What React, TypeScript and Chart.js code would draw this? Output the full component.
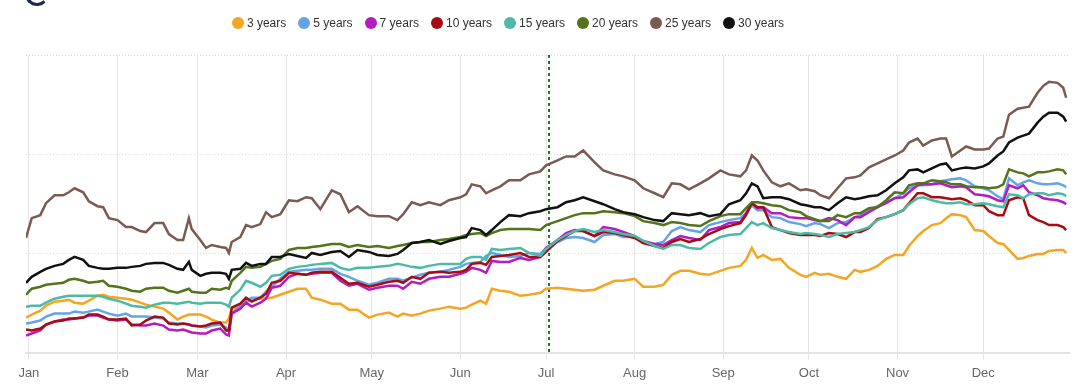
import { useEffect, useRef } from "react";
import { Chart, registerables } from "chart.js";

Chart.register(...registerables);

// Day of year (0 = 1 Jan) for each observation
const days = [
  -1, 1, 4, 6, 9, 12, 14, 16, 19, 21,
  24, 26, 28, 31, 34, 36, 39, 41, 44, 47,
  49, 52, 54, 56, 57, 60, 62, 64, 67, 69,
  70, 71, 74, 76, 78, 81, 83, 85, 88, 91,
  94, 97, 99, 102, 106, 109, 112, 115, 119, 122,
  126, 129, 131, 134, 137, 140, 144, 147, 151, 153,
  155, 158, 160, 162, 165, 168, 172, 175, 179, 181,
  185, 188, 191, 194, 198, 201, 205, 208, 212, 215,
  219, 222, 225, 228, 231, 235, 238, 242, 245, 249,
  251, 253, 255, 257, 260, 263, 266, 270, 272, 275,
  277, 280, 283, 286, 289, 291, 294, 297, 300, 303,
  306, 308, 311, 313, 316, 319, 321, 323, 326, 328,
  331, 334, 336, 339, 341, 343, 346, 348, 350, 353,
  355, 357, 360, 362, 363,
];

const monthStarts = [0, 31, 59, 90, 120, 151, 181, 212, 243, 273, 304, 334];
const monthLabels = ["Jan", "Feb", "Mar", "Apr", "May", "Jun", "Jul", "Aug", "Sep", "Oct", "Nov", "Dec"];
const plotLineDay = 182;

const seriesNames = ["3 years", "5 years", "7 years", "10 years", "15 years", "20 years", "25 years", "30 years"];
const seriesColors = ["#f4a521", "#65a3e8", "#b31cc0", "#a50d12", "#4cbaa4", "#52741a", "#7a5a51", "#111111"];

const y3 = [
  0.36, 0.39, 0.43, 0.48, 0.52, 0.53, 0.54, 0.51, 0.50, 0.53,
  0.58, 0.59, 0.57, 0.56, 0.55, 0.54, 0.51, 0.49, 0.47, 0.45,
  0.41, 0.34, 0.37, 0.39, 0.39, 0.39, 0.37, 0.34, 0.31, 0.31,
  0.35, 0.45, 0.47, 0.51, 0.54, 0.55, 0.56, 0.56, 0.59, 0.62,
  0.65, 0.65, 0.56, 0.54, 0.50, 0.50, 0.44, 0.44, 0.36, 0.39,
  0.41, 0.37, 0.40, 0.38, 0.40, 0.43, 0.45, 0.47, 0.45, 0.46,
  0.49, 0.53, 0.50, 0.65, 0.63, 0.62, 0.58, 0.59, 0.61, 0.65,
  0.66, 0.65, 0.64, 0.63, 0.64, 0.68, 0.73, 0.73, 0.75, 0.67,
  0.67, 0.69, 0.79, 0.83, 0.83, 0.80, 0.79, 0.83, 0.86, 0.88,
  0.94, 1.06, 0.96, 0.99, 0.94, 0.95, 0.86, 0.79, 0.77, 0.81,
  0.79, 0.80, 0.77, 0.75, 0.84, 0.82, 0.84, 0.88, 0.95, 0.99,
  0.99, 1.08, 1.18, 1.23, 1.29, 1.31, 1.36, 1.40, 1.39, 1.37,
  1.24, 1.23, 1.18, 1.11, 1.10, 1.04, 0.95, 0.96, 0.98, 1.00,
  1.00, 1.03, 1.04, 1.04, 1.01,
];

const y5 = [
  0.30, 0.31, 0.33, 0.37, 0.40, 0.40, 0.40, 0.42, 0.41, 0.42,
  0.44, 0.42, 0.40, 0.38, 0.40, 0.37, 0.37, 0.37, 0.36, 0.35,
  0.31, 0.30, 0.30, 0.29, 0.28, 0.27, 0.26, 0.28, 0.29, 0.26,
  0.23, 0.40, 0.48, 0.53, 0.56, 0.56, 0.62, 0.67, 0.75, 0.82,
  0.83, 0.84, 0.84, 0.85, 0.85, 0.80, 0.77, 0.73, 0.69, 0.71,
  0.75, 0.75, 0.73, 0.76, 0.79, 0.81, 0.82, 0.84, 0.87, 0.90,
  0.91, 0.92, 0.98, 1.01, 0.99, 0.97, 0.98, 1.01, 1.00, 1.06,
  1.12, 1.16, 1.17, 1.16, 1.12, 1.19, 1.20, 1.17, 1.17, 1.12,
  1.10, 1.12, 1.23, 1.27, 1.24, 1.22, 1.29, 1.32, 1.34, 1.36,
  1.41, 1.49, 1.44, 1.44, 1.37, 1.36, 1.32, 1.30, 1.28, 1.31,
  1.30, 1.26, 1.31, 1.32, 1.37, 1.39, 1.44, 1.48, 1.52, 1.56,
  1.61, 1.66, 1.69, 1.69, 1.70, 1.73, 1.74, 1.75, 1.76, 1.74,
  1.68, 1.66, 1.64, 1.58, 1.55, 1.76, 1.69, 1.72, 1.74, 1.71,
  1.70, 1.70, 1.71, 1.69, 1.67,
];

const y7 = [
  0.18, 0.20, 0.23, 0.29, 0.32, 0.34, 0.34, 0.35, 0.36, 0.38,
  0.38, 0.36, 0.34, 0.33, 0.34, 0.29, 0.28, 0.28, 0.30, 0.28,
  0.24, 0.23, 0.24, 0.22, 0.21, 0.20, 0.20, 0.23, 0.25, 0.19,
  0.18, 0.40, 0.45, 0.51, 0.47, 0.51, 0.55, 0.66, 0.68, 0.77,
  0.80, 0.79, 0.80, 0.81, 0.81, 0.73, 0.68, 0.70, 0.64, 0.66,
  0.68, 0.68, 0.65, 0.72, 0.70, 0.75, 0.77, 0.77, 0.80, 0.82,
  0.86, 0.84, 0.81, 0.93, 0.92, 0.92, 0.96, 0.94, 0.97, 1.06,
  1.14, 1.21, 1.24, 1.23, 1.18, 1.27, 1.25, 1.22, 1.18, 1.13,
  1.10, 1.09, 1.14, 1.18, 1.16, 1.14, 1.24, 1.27, 1.31, 1.32,
  1.41, 1.51, 1.46, 1.47, 1.41, 1.41, 1.37, 1.36, 1.36, 1.34,
  1.33, 1.36, 1.34, 1.29, 1.37, 1.37, 1.42, 1.47, 1.51, 1.56,
  1.57, 1.62, 1.69, 1.70, 1.70, 1.71, 1.69, 1.67, 1.68, 1.67,
  1.60, 1.59, 1.58, 1.54, 1.53, 1.69, 1.66, 1.69, 1.62, 1.59,
  1.56, 1.55, 1.54, 1.52, 1.50,
];

const y10 = [
  0.24, 0.23, 0.25, 0.29, 0.32, 0.33, 0.35, 0.35, 0.36, 0.39,
  0.39, 0.37, 0.34, 0.34, 0.35, 0.28, 0.29, 0.33, 0.37, 0.36,
  0.30, 0.29, 0.30, 0.29, 0.28, 0.27, 0.28, 0.30, 0.31, 0.23,
  0.23, 0.46, 0.50, 0.56, 0.52, 0.56, 0.60, 0.71, 0.73, 0.81,
  0.80, 0.79, 0.81, 0.82, 0.82, 0.76, 0.70, 0.71, 0.67, 0.69,
  0.72, 0.73, 0.71, 0.77, 0.75, 0.81, 0.82, 0.81, 0.82, 0.84,
  0.90, 0.91, 0.89, 0.97, 0.98, 0.99, 1.01, 0.97, 0.97, 1.02,
  1.13, 1.18, 1.23, 1.23, 1.18, 1.22, 1.21, 1.19, 1.16, 1.11,
  1.08, 1.06, 1.12, 1.15, 1.12, 1.15, 1.20, 1.25, 1.28, 1.31,
  1.39, 1.51, 1.47, 1.47, 1.27, 1.24, 1.21, 1.19, 1.19, 1.19,
  1.18, 1.21, 1.20, 1.17, 1.22, 1.22, 1.26, 1.35, 1.37, 1.40,
  1.44, 1.51, 1.61, 1.61, 1.57, 1.57, 1.56, 1.55, 1.56, 1.54,
  1.49, 1.49, 1.43, 1.39, 1.39, 1.54, 1.57, 1.56, 1.39, 1.34,
  1.32, 1.29, 1.29, 1.27, 1.24,
];

const y15 = [
  0.47, 0.48, 0.48, 0.51, 0.55, 0.57, 0.58, 0.58, 0.58, 0.58,
  0.58, 0.57, 0.55, 0.53, 0.50, 0.48, 0.47, 0.46, 0.49, 0.51,
  0.51, 0.50, 0.51, 0.52, 0.51, 0.50, 0.51, 0.51, 0.51, 0.49,
  0.47, 0.56, 0.64, 0.73, 0.71, 0.67, 0.71, 0.78, 0.79, 0.85,
  0.87, 0.88, 0.89, 0.90, 0.91, 0.86, 0.84, 0.86, 0.86, 0.87,
  0.88, 0.90, 0.89, 0.87, 0.86, 0.88, 0.90, 0.90, 0.90, 0.95,
  0.97, 0.97, 0.94, 1.05, 1.04, 1.05, 1.06, 1.01, 0.98, 1.05,
  1.14, 1.19, 1.23, 1.25, 1.22, 1.24, 1.22, 1.20, 1.18, 1.13,
  1.08, 1.05, 1.09, 1.09, 1.06, 1.05, 1.11, 1.17, 1.19, 1.20,
  1.26, 1.32, 1.29, 1.31, 1.26, 1.24, 1.22, 1.20, 1.21, 1.20,
  1.19, 1.17, 1.20, 1.21, 1.22, 1.24, 1.27, 1.34, 1.37, 1.40,
  1.44, 1.50, 1.56, 1.57, 1.54, 1.52, 1.51, 1.51, 1.52, 1.50,
  1.50, 1.51, 1.50, 1.48, 1.47, 1.60, 1.59, 1.56, 1.60, 1.61,
  1.61, 1.59, 1.61, 1.60, 1.58,
];

const y20 = [
  0.59, 0.65, 0.67, 0.69, 0.70, 0.71, 0.74, 0.75, 0.73, 0.71,
  0.72, 0.73, 0.68, 0.67, 0.65, 0.63, 0.62, 0.65, 0.66, 0.66,
  0.63, 0.61, 0.63, 0.65, 0.62, 0.61, 0.61, 0.65, 0.64, 0.66,
  0.65, 0.73, 0.81, 0.87, 0.86, 0.87, 0.90, 0.93, 0.95, 1.04,
  1.06, 1.06, 1.07, 1.08, 1.10, 1.10, 1.07, 1.09, 1.07, 1.08,
  1.06, 1.08, 1.09, 1.11, 1.12, 1.12, 1.14, 1.15, 1.17, 1.19,
  1.20, 1.21, 1.18, 1.21, 1.24, 1.25, 1.25, 1.25, 1.24, 1.29,
  1.33, 1.36, 1.39, 1.41, 1.41, 1.43, 1.42, 1.41, 1.38, 1.33,
  1.31, 1.29, 1.32, 1.31, 1.29, 1.28, 1.33, 1.38, 1.40, 1.40,
  1.46, 1.52, 1.52, 1.51, 1.49, 1.48, 1.44, 1.42, 1.38, 1.35,
  1.33, 1.33, 1.39, 1.37, 1.41, 1.41, 1.46, 1.47, 1.54, 1.62,
  1.61, 1.69, 1.71, 1.71, 1.74, 1.73, 1.72, 1.70, 1.70, 1.68,
  1.67, 1.67, 1.66, 1.67, 1.70, 1.85, 1.82, 1.81, 1.78, 1.82,
  1.82, 1.83, 1.85, 1.84, 1.80,
];

const y25 = [
  1.16, 1.36, 1.39, 1.51, 1.59, 1.59, 1.62, 1.66, 1.62, 1.53,
  1.48, 1.47, 1.36, 1.34, 1.27, 1.27, 1.23, 1.22, 1.31, 1.31,
  1.20, 1.14, 1.14, 1.36, 1.25, 1.14, 1.06, 1.09, 1.07, 1.06,
  1.01, 1.12, 1.17, 1.29, 1.27, 1.30, 1.42, 1.37, 1.40, 1.54,
  1.53, 1.57, 1.56, 1.45, 1.64, 1.60, 1.42, 1.48, 1.39, 1.38,
  1.38, 1.34, 1.40, 1.52, 1.49, 1.52, 1.49, 1.54, 1.57, 1.60,
  1.70, 1.68, 1.61, 1.64, 1.68, 1.74, 1.74, 1.80, 1.83, 1.89,
  1.94, 1.98, 1.98, 2.04, 1.92, 1.84, 1.80, 1.78, 1.74, 1.66,
  1.61, 1.57, 1.71, 1.70, 1.65, 1.71, 1.76, 1.84, 1.80, 1.78,
  1.84, 1.99, 1.94, 1.84, 1.72, 1.68, 1.71, 1.64, 1.65, 1.63,
  1.59, 1.56, 1.66, 1.76, 1.77, 1.79, 1.87, 1.91, 1.95, 1.99,
  2.04, 2.12, 2.16, 2.09, 2.14, 2.16, 2.16, 1.98, 2.04, 2.08,
  2.05, 2.05, 2.06, 2.16, 2.18, 2.40, 2.46, 2.47, 2.48, 2.62,
  2.69, 2.73, 2.72, 2.67, 2.57,
];

const y30 = [
  0.71, 0.77, 0.82, 0.85, 0.88, 0.90, 0.94, 0.97, 0.94, 0.88,
  0.86, 0.85, 0.85, 0.86, 0.86, 0.87, 0.88, 0.90, 0.91, 0.91,
  0.89, 0.85, 0.84, 0.92, 0.84, 0.78, 0.80, 0.81, 0.81, 0.80,
  0.75, 0.84, 0.85, 0.91, 0.88, 0.90, 0.90, 0.97, 0.97, 1.00,
  0.98, 0.96, 1.01, 0.99, 1.02, 1.03, 0.97, 1.04, 1.02, 0.99,
  0.98, 1.00, 1.04, 1.11, 1.12, 1.14, 1.10, 1.13, 1.16, 1.17,
  1.26, 1.24, 1.19, 1.24, 1.32, 1.39, 1.38, 1.41, 1.43, 1.45,
  1.47, 1.52, 1.54, 1.57, 1.53, 1.50, 1.45, 1.42, 1.40, 1.37,
  1.34, 1.33, 1.41, 1.40, 1.39, 1.41, 1.38, 1.40, 1.50, 1.54,
  1.61, 1.71, 1.68, 1.56, 1.57, 1.57, 1.55, 1.50, 1.49, 1.47,
  1.47, 1.44, 1.51, 1.57, 1.55, 1.56, 1.58, 1.59, 1.64, 1.71,
  1.77, 1.84, 1.85, 1.82, 1.86, 1.90, 1.91, 1.84, 1.86, 1.87,
  1.86, 1.88, 1.91, 1.99, 2.03, 2.12, 2.17, 2.19, 2.21, 2.32,
  2.38, 2.42, 2.42, 2.38, 2.33,
];

const plotLinePlugin = {
  id: "plotLine",
  beforeDatasetsDraw(chart: any) {
    const { ctx, chartArea, scales } = chart;
    const x = Math.round(scales.x.getPixelForValue(plotLineDay));
    ctx.save();
    ctx.strokeStyle = "#1d7a22";
    ctx.lineWidth = 2;
    ctx.setLineDash([3, 3]);
    ctx.beginPath();
    ctx.moveTo(x, chartArea.top);
    ctx.lineTo(x, chartArea.bottom);
    ctx.stroke();
    ctx.restore();
  },
};

export default function App() {
  const canvasRef = useRef<HTMLCanvasElement>(null);

  useEffect(() => {
    document.body.style.margin = "0";
    const series = [y3, y5, y7, y10, y15, y20, y25, y30];
    const chart = new Chart(canvasRef.current as HTMLCanvasElement, {
      type: "line",
      data: {
        datasets: series.map((vals, i) => ({
          label: seriesNames[i],
          data: vals.map((v, j) => ({ x: days[j], y: v })),
          borderColor: seriesColors[i],
          backgroundColor: seriesColors[i],
          borderWidth: 2.5,
          pointRadius: 0,
          tension: 0,
          fill: false,
          order: -i,
        })),
      },
      options: {
        responsive: false,
        animation: false,
        events: [],
        layout: { padding: { left: 26, right: 15, top: 55, bottom: 3 } },
        plugins: { legend: { display: false }, tooltip: { enabled: false } },
        scales: {
          x: {
            type: "linear",
            min: -1,
            max: 364,
            afterBuildTicks: (scale: any) => {
              scale.ticks = monthStarts.map((v) => ({ value: v }));
            },
            ticks: {
              autoSkip: false,
              maxRotation: 0,
              padding: 6,
              color: "#666666",
              font: { size: 13, family: "'Liberation Sans', Arial, sans-serif" },
              callback: (value: any) => {
                const idx = monthStarts.indexOf(Number(value));
                return idx >= 0 ? monthLabels[idx] : "";
              },
            },
            grid: {
              color: "#e6e6e6",
              lineWidth: 1,
              drawTicks: true,
              tickLength: 6,
              tickColor: "#e6e6e6",
            },
            border: { display: true, color: "#e3e3e3", width: 2 },
          },
          y: {
            min: 0,
            max: 3,
            ticks: { display: false, stepSize: 1 },
            grid: { color: "#d9d9d9", lineWidth: 1, drawTicks: false },
            border: { display: false, dash: [1, 2] },
          },
        },
      },
      plugins: [plotLinePlugin],
    });
    return () => chart.destroy();
  }, []);

  return (
    <div style={{ position: "relative", width: 1084, height: 390, background: "#ffffff", overflow: "hidden" }}>
      <div
        style={{
          position: "absolute",
          left: 25,
          top: -18,
          width: 18,
          height: 18,
          borderRadius: "50%",
          border: "3px solid #1c2b4b",
          borderTopColor: "transparent",
          borderRightColor: "transparent",
        }}
      />
      <canvas ref={canvasRef} width={1084} height={390} style={{ display: "block" }} />
      <div
        style={{
          position: "absolute",
          left: 0,
          top: 16,
          width: 1016,
          height: 14,
          display: "flex",
          justifyContent: "center",
          alignItems: "center",
          gap: 12,
          fontFamily: "'Liberation Sans', Arial, sans-serif",
          fontSize: 12,
          color: "#333333",
          whiteSpace: "nowrap",
        }}
      >
        {seriesNames.map((name, i) => (
          <div key={name} style={{ display: "flex", alignItems: "center" }}>
            <span
              style={{
                display: "inline-block",
                width: 12,
                height: 12,
                borderRadius: "50%",
                background: seriesColors[i],
                marginRight: 3,
              }}
            />
            <span>{name}</span>
          </div>
        ))}
      </div>
    </div>
  );
}
